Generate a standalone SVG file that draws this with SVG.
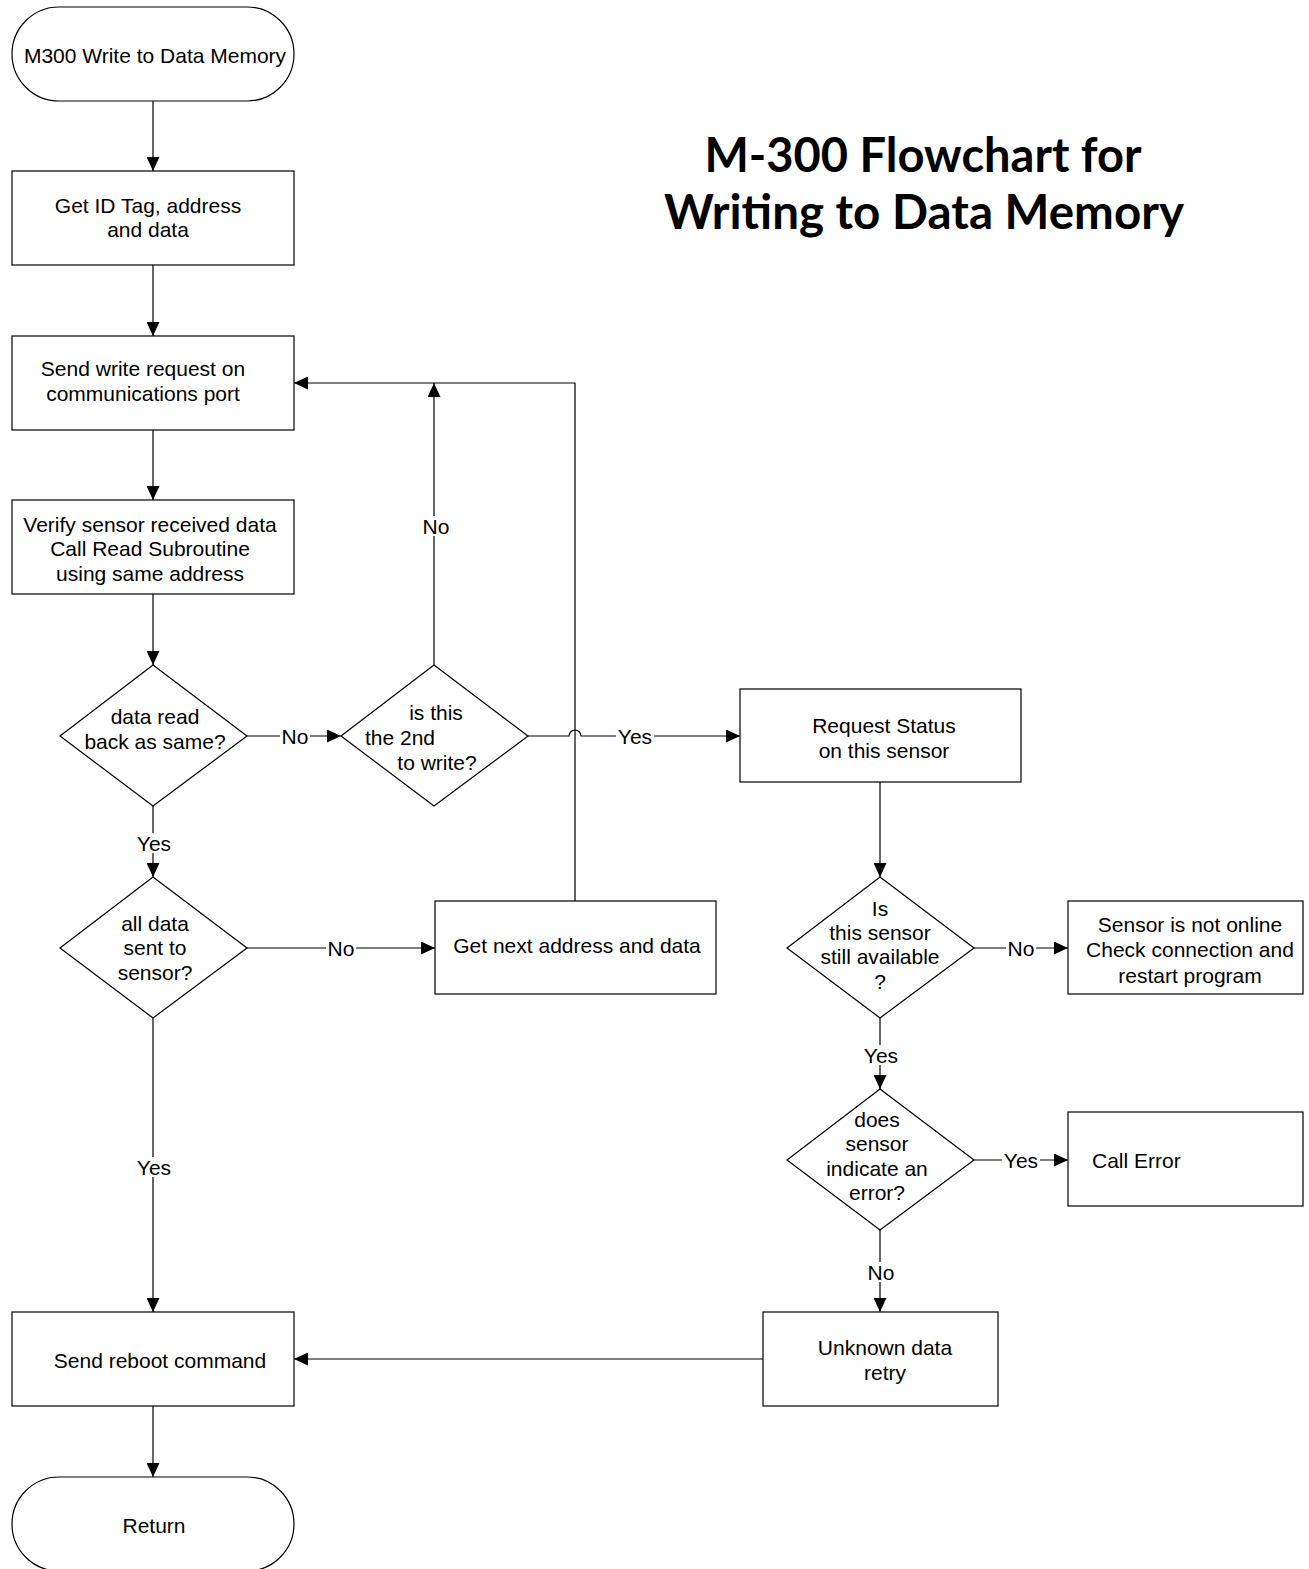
<svg xmlns="http://www.w3.org/2000/svg" width="1309" height="1569" viewBox="0 0 1309 1569">
<style>
.s{fill:#fff;stroke:#000;stroke-width:1.2}
.c{fill:none;stroke:#000;stroke-width:1.2}
text{font-family:"Liberation Sans",Arial,sans-serif;font-size:21px;fill:#000}
.m{text-anchor:middle}
.t{font-family:Lato,"Open Sans",sans-serif;font-weight:bold;font-size:47px;text-anchor:middle}
.lb{fill:#fff;stroke:none}
</style>
<defs>
<marker id="a" markerWidth="14" markerHeight="13" refX="14" refY="6.5" orient="auto" markerUnits="userSpaceOnUse">
<path d="M0,0 L14,6.5 L0,13 z" fill="#000"/>
</marker>
</defs>
<rect width="1309" height="1569" fill="#fff"/>

<g id="title">
<text class="t" x="923" y="172">M-300 Flowchart for</text>
<text class="t" x="924" y="229" textLength="520" lengthAdjust="spacingAndGlyphs">Writing to Data Memory</text>
</g>

<g id="connectors">
<path class="c" d="M153,101 V171" marker-end="url(#a)"/>
<path class="c" d="M153,265 V336" marker-end="url(#a)"/>
<path class="c" d="M153,430 V500" marker-end="url(#a)"/>
<path class="c" d="M153,594 V665" marker-end="url(#a)"/>
<path class="c" d="M247,736 H341" marker-end="url(#a)"/>
<path class="c" d="M434,665 V383" marker-end="url(#a)"/>
<path class="c" d="M575,901 V383 H294" marker-end="url(#a)"/>
<path class="c" d="M528,736 H569 A6,6 0 0 1 581,736 H740" marker-end="url(#a)"/>
<path class="c" d="M153,806 V877" marker-end="url(#a)"/>
<path class="c" d="M247,948 H435" marker-end="url(#a)"/>
<path class="c" d="M153,1018 V1312" marker-end="url(#a)"/>
<path class="c" d="M880,782 V877" marker-end="url(#a)"/>
<path class="c" d="M974,948 H1068" marker-end="url(#a)"/>
<path class="c" d="M880,1018 V1089" marker-end="url(#a)"/>
<path class="c" d="M974,1160 H1068" marker-end="url(#a)"/>
<path class="c" d="M880,1230 V1312" marker-end="url(#a)"/>
<path class="c" d="M763,1359 H294" marker-end="url(#a)"/>
<path class="c" d="M153,1406 V1477" marker-end="url(#a)"/>
<g id="labels">
<rect class="lb" x="280" y="726" width="30" height="20"/><text class="m" x="295" y="744">No</text>
<rect class="lb" x="421" y="516" width="30" height="20"/><text class="m" x="436" y="534">No</text>
<rect class="lb" x="616" y="726" width="38" height="20"/><text class="m" x="635" y="744">Yes</text>
<rect class="lb" x="135" y="833" width="38" height="20"/><text class="m" x="154" y="851">Yes</text>
<rect class="lb" x="326" y="938" width="30" height="20"/><text class="m" x="341" y="956">No</text>
<rect class="lb" x="135" y="1157" width="38" height="20"/><text class="m" x="154" y="1175">Yes</text>
<rect class="lb" x="1006" y="938" width="30" height="20"/><text class="m" x="1021" y="956">No</text>
<rect class="lb" x="862" y="1045" width="38" height="20"/><text class="m" x="881" y="1063">Yes</text>
<rect class="lb" x="1002" y="1150" width="38" height="20"/><text class="m" x="1021" y="1168">Yes</text>
<rect class="lb" x="866" y="1262" width="30" height="20"/><text class="m" x="881" y="1280">No</text>
</g>
</g>

<g id="start">
<rect class="s" x="12" y="7" width="282" height="94" rx="47" ry="47"/>
<text class="m" x="155" y="63">M300 Write to Data Memory</text>
</g>
<g id="get-id">
<rect class="s" x="12" y="171" width="282" height="94"/>
<text class="m" x="148" y="213">Get ID Tag, address</text>
<text class="m" x="148" y="237">and data</text>
</g>
<g id="send-write">
<rect class="s" x="12" y="336" width="282" height="94"/>
<text class="m" x="143" y="376">Send write request on</text>
<text class="m" x="143" y="401">communications port</text>
</g>
<g id="verify">
<rect class="s" x="12" y="500" width="282" height="94"/>
<text class="m" x="150" y="532">Verify sensor received data</text>
<text class="m" x="150" y="556">Call Read Subroutine</text>
<text class="m" x="150" y="581">using same address</text>
</g>
<g id="data-same">
<polygon class="s" points="153,665 247,736 153,806 60,736"/>
<text class="m" x="155" y="724">data read</text>
<text class="m" x="155" y="749">back as same?</text>
</g>
<g id="second-write">
<polygon class="s" points="434,665 528,736 434,806 341,736"/>
<text class="m" x="436" y="720">is this</text>
<text class="m" x="400" y="745">the 2nd</text>
<text class="m" x="437" y="770">to write?</text>
</g>
<g id="request-status">
<rect class="s" x="740" y="689" width="281" height="93"/>
<text class="m" x="884" y="733">Request Status</text>
<text class="m" x="884" y="758">on this sensor</text>
</g>
<g id="all-data">
<polygon class="s" points="153,877 247,948 153,1018 60,948"/>
<text class="m" x="155" y="931">all data</text>
<text class="m" x="155" y="955">sent to</text>
<text class="m" x="155" y="980">sensor?</text>
</g>
<g id="next-address">
<rect class="s" x="435" y="901" width="281" height="93"/>
<text class="m" x="577" y="953">Get next address and data</text>
</g>
<g id="sensor-available">
<polygon class="s" points="880,877 974,948 880,1018 787,948"/>
<text class="m" x="880" y="916">Is</text>
<text class="m" x="880" y="940">this sensor</text>
<text class="m" x="880" y="964">still available</text>
<text class="m" x="880" y="989">?</text>
</g>
<g id="not-online">
<rect class="s" x="1068" y="901" width="235" height="93"/>
<text class="m" x="1190" y="932">Sensor is not online</text>
<text class="m" x="1190" y="957">Check connection and</text>
<text class="m" x="1190" y="983">restart program</text>
</g>
<g id="indicate-error">
<polygon class="s" points="880,1089 974,1160 880,1230 787,1160"/>
<text class="m" x="877" y="1127">does</text>
<text class="m" x="877" y="1151">sensor</text>
<text class="m" x="877" y="1176">indicate an</text>
<text class="m" x="877" y="1200">error?</text>
</g>
<g id="call-error">
<rect class="s" x="1068" y="1112" width="235" height="94"/>
<text x="1092" y="1168">Call Error</text>
</g>
<g id="unknown-data">
<rect class="s" x="763" y="1312" width="235" height="94"/>
<text class="m" x="885" y="1355">Unknown data</text>
<text class="m" x="885" y="1380">retry</text>
</g>
<g id="reboot">
<rect class="s" x="12" y="1312" width="282" height="94"/>
<text class="m" x="160" y="1368">Send reboot command</text>
</g>
<g id="return">
<rect class="s" x="12" y="1477" width="282" height="94" rx="47" ry="47"/>
<text class="m" x="154" y="1533">Return</text>
</g>
</svg>
